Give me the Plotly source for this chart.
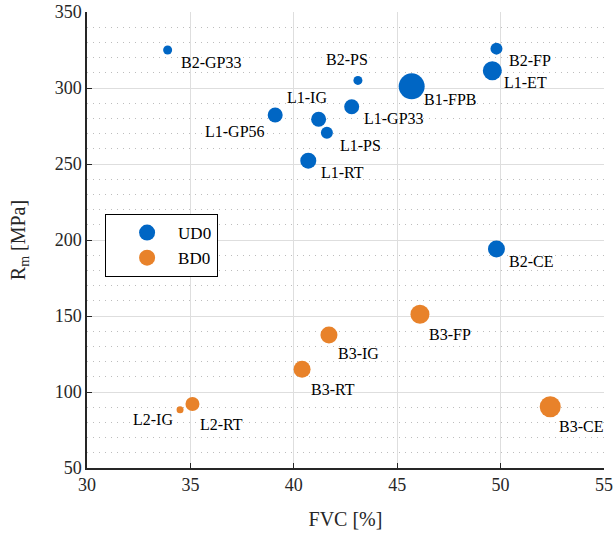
import plotly.graph_objects as go

# Unidirectional (UD0) specimens
ud_names = ["B2-GP33", "L1-GP56", "L1-IG", "L1-PS", "L1-RT", "L1-GP33", "B2-PS",
            "B1-FPB", "B2-FP", "L1-ET", "B2-CE"]
ud_fvc = [33.9, 39.1, 41.2, 41.6, 40.7, 42.8, 43.1, 45.7, 49.8, 49.6, 49.8]
ud_rm = [325.0, 282.2, 279.4, 270.6, 252.2, 287.7, 305.0, 301.1, 325.9, 311.4, 194.1]
ud_size = [9, 15, 15, 12, 16, 15, 9, 26, 12, 19, 17]

# Bidirectional (BD0) specimens
bd_names = ["B3-FP", "B3-IG", "B3-RT", "L2-RT", "L2-IG", "B3-CE"]
bd_fvc = [46.1, 41.7, 40.4, 35.1, 34.5, 52.4]
bd_rm = [151.1, 137.5, 114.9, 92.1, 88.4, 90.3]
bd_size = [19, 17, 17, 14, 7, 21]

x_ticks = [30, 35, 40, 45, 50, 55]
y_ticks = [50, 100, 150, 200, 250, 300, 350]

BLUE = "#0066C4"
ORANGE = "#E8822A"
FONT = "Liberation Serif"
TXT = "#262626"

# label placement: (xanchor, xshift, yshift) per specimen
label_pos = {
    "B2-GP33": ("left", 11, -12), "L1-GP56": ("right", -8, -16),
    "L1-IG": ("center", -12, 22), "L1-PS": ("left", 11, -13),
    "L1-RT": ("left", 11, -12), "L1-GP33": ("left", 10, -12),
    "B2-PS": ("center", -11, 21), "B1-FPB": ("left", 10, -13),
    "B2-FP": ("left", 11, -12), "L1-ET": ("left", 10, -12),
    "B2-CE": ("left", 11, -13), "B3-FP": ("left", 7, -20),
    "B3-IG": ("left", 7, -18), "B3-RT": ("left", 7, -20),
    "L2-RT": ("left", 6, -20), "L2-IG": ("right", -5, -10),
    "B3-CE": ("left", 7, -20),
}

fig = go.Figure()
fig.add_trace(go.Scatter(x=ud_fvc, y=ud_rm, mode="markers", name="UD0",
                         marker=dict(color=BLUE, size=ud_size, opacity=1, line=dict(width=0)),
                         showlegend=False))
fig.add_trace(go.Scatter(x=bd_fvc, y=bd_rm, mode="markers", name="BD0",
                         marker=dict(color=ORANGE, size=bd_size, opacity=1, line=dict(width=0)),
                         showlegend=False))
# legend entries with a uniform symbol size
fig.add_trace(go.Scatter(x=[None], y=[None], mode="markers", name="UD0",
                         marker=dict(color=BLUE, size=16, opacity=1)))
fig.add_trace(go.Scatter(x=[None], y=[None], mode="markers", name="BD0",
                         marker=dict(color=ORANGE, size=16, opacity=1)))

for names, xs, ys in ((ud_names, ud_fvc, ud_rm), (bd_names, bd_fvc, bd_rm)):
    for n, x, y in zip(names, xs, ys):
        anc, dx, dy = label_pos[n]
        fig.add_annotation(x=x, y=y, text=n, showarrow=False, xanchor=anc,
                           yanchor="middle", xshift=dx, yshift=dy,
                           font=dict(family=FONT, size=16, color="black"))

fig.update_layout(
    width=614, height=535,
    margin=dict(l=87, r=10, t=12, b=67, autoexpand=False),
    paper_bgcolor="white", plot_bgcolor="white",
    font=dict(family=FONT, color=TXT),
    legend=dict(x=0.035, y=0.557, xanchor="left", yanchor="top",
                bgcolor="white", bordercolor="black", borderwidth=1,
                font=dict(family=FONT, size=17, color="black"),
                itemwidth=52, indentation=10, tracegroupgap=0),
)
fig.update_xaxes(
    range=[30, 55], tickvals=x_ticks, ticktext=[str(v) for v in x_ticks],
    showline=True, linecolor="#262626", linewidth=1.5,
    ticks="inside", ticklen=5, tickcolor="#262626",
    showgrid=True, gridcolor="#DEDEDE", gridwidth=1, zeroline=False,
    tickfont=dict(family=FONT, size=18, color=TXT),
    title=dict(text="FVC [%]", font=dict(family=FONT, size=20, color=TXT), standoff=18),
)
fig.update_yaxes(
    range=[50, 350], tickvals=y_ticks, ticktext=[str(v) for v in y_ticks],
    showline=True, linecolor="#262626", linewidth=1.5,
    ticks="inside", ticklen=5, tickcolor="#262626",
    showgrid=True, gridcolor="#DEDEDE", gridwidth=1, zeroline=False,
    minor=dict(dtick=10, showgrid=True, gridcolor="#BDBDBD", griddash="1px,5px", gridwidth=1),
    tickfont=dict(family=FONT, size=18, color=TXT),
    title=dict(text="R<sub>m</sub> [MPa]", font=dict(family=FONT, size=20, color=TXT), standoff=24),
)

fig.write_html("out.html")
